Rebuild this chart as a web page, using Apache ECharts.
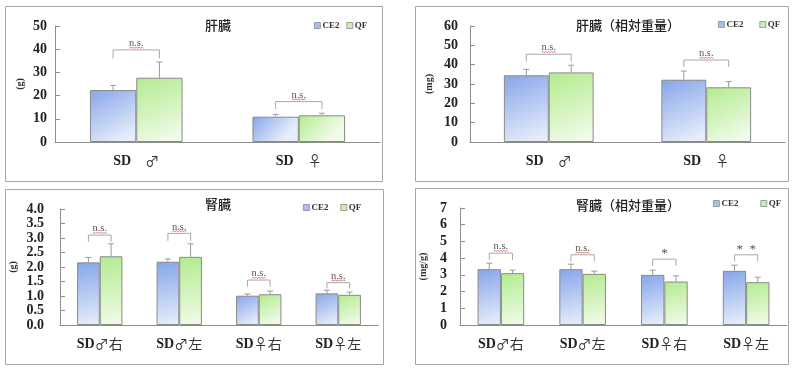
<!DOCTYPE html>
<html><head><meta charset="utf-8">
<script src="https://cdn.jsdelivr.net/npm/echarts@6/dist/echarts.min.js"></script>
<style>html,body{margin:0;padding:0;background:#fff;}#c{width:800px;height:372px;}</style>
</head><body><div id="c"></div>
<script>
// ---------- data ----------
const liverCats = ['SD\u3000♂', 'SD\u3000♀'];
const liverCE2 = [22.4, 10.9];
const liverCE2Err = [2.0, 1.0];
const liverQF = [27.7, 11.5];
const liverQFErr = [6.8, 0.9];
const liverBracket = [39.7, 17.4];
const liverLeg = [36.0, 14.2];
const liverSig = ['n.s.', 'n.s.'];

const liverRelCE2 = [34.5, 32.2];
const liverRelCE2Err = [3.1, 4.5];
const liverRelQF = [36.0, 28.3];
const liverRelQFErr = [3.7, 2.9];
const liverRelBracket = [45.4, 42.4];
const liverRelLeg = [41.5, 38.9];
const liverRelSig = ['n.s.', 'n.s.'];

const kidneyCats = ['SD♂右', 'SD♂左', 'SD♀右', 'SD♀左'];
const kidneyCE2 = [2.16, 2.18, 1.01, 1.09];
const kidneyCE2Err = [0.17, 0.10, 0.06, 0.11];
const kidneyQF = [2.37, 2.35, 1.06, 1.04];
const kidneyQFErr = [0.43, 0.45, 0.11, 0.09];
const kidneyBracket = [3.10, 3.16, 1.55, 1.46];
const kidneyLeg = [2.87, 2.90, 1.32, 1.26];
const kidneySig = ['n.s.', 'n.s.', 'n.s.', 'n.s.'];

const kidneyRelCE2 = [3.34, 3.34, 3.00, 3.24];
const kidneyRelCE2Err = [0.36, 0.30, 0.28, 0.34];
const kidneyRelQF = [3.10, 3.06, 2.60, 2.56];
const kidneyRelQFErr = [0.18, 0.16, 0.34, 0.30];
const kidneyRelBracket = [4.30, 4.20, 3.94, 4.20];
const kidneyRelLeg = [3.90, 3.80, 3.54, 3.80];
const kidneyRelSig = ['n.s.', 'n.s.', '*', '* *'];

// ---------- styling ----------
const GAP = 0.43;
const serif = 'Liberation Serif';
const cjk = 'Noto Sans CJK JP';
const ce2Color = {type:'linear', x:0, y:0, x2:0.6, y2:1, colorStops:[{offset:0,color:'#86a5e8'},{offset:1,color:'#e6edfb'}]};
const qfColor = {type:'linear', x:0, y:0, x2:0.6, y2:1, colorStops:[{offset:0,color:'#b2eb8e'},{offset:1,color:'#f0fbe8'}]};

const panels = [
  {title:'肝臓', tx:213, ty:14, grid:{left:55, top:26, width:325, height:116}, cats:liverCats,
   max:50, interval:10, dec:0, yname:'(g)', ygap:30, lmargin:8, xmargin:12,
   ce2:liverCE2, ce2e:liverCE2Err, qf:liverQF, qfe:liverQFErr, br:liverBracket, leg:liverLeg, sig:liverSig,
   lx:309, ly:16, lgap:7},
  {title:'肝臓（相対重量）', tx:623, ty:14, grid:{left:470, top:26, width:315, height:116}, cats:liverCats,
   max:60, interval:10, dec:0, yname:'(mg)', ygap:36, lmargin:12, xmargin:12,
   ce2:liverRelCE2, ce2e:liverRelCE2Err, qf:liverRelQF, qfe:liverRelQFErr, br:liverRelBracket, leg:liverRelLeg, sig:liverRelSig,
   lx:713, ly:15, lgap:16},
  {title:'腎臓', tx:213, ty:193, grid:{left:60, top:209, width:318, height:116}, cats:kidneyCats,
   max:4, interval:0.5, dec:1, yname:'(g)', ygap:42, lmargin:16, xmargin:12,
   ce2:kidneyCE2, ce2e:kidneyCE2Err, qf:kidneyQF, qfe:kidneyQFErr, br:kidneyBracket, leg:kidneyLeg, sig:kidneySig,
   lx:298, ly:198, lgap:12},
  {title:'腎臓（相対重量）', tx:623, ty:194, grid:{left:460, top:208, width:327, height:117}, cats:kidneyCats,
   max:7, interval:1, dec:0, yname:'(mg/g)', ygap:32, lmargin:13, xmargin:12,
   ce2:kidneyRelCE2, ce2e:kidneyRelCE2Err, qf:kidneyRelQF, qfe:kidneyRelQFErr, br:kidneyRelBracket, leg:kidneyRelLeg, sig:kidneyRelSig,
   lx:708, ly:194, lgap:22}
];

function errRender(sign){
  return function(params, api){
    const cat = api.value(0), v = api.value(1), e = api.value(2);
    const band = api.size([1,0])[0];
    const bw = band*(1-GAP)/2;
    const c = api.coord([cat, v]);
    const t = api.coord([cat, v+e]);
    const x = c[0] + sign*bw/2;
    const st = {stroke:'#9a9a9a', lineWidth:1};
    return {type:'group', children:[
      {type:'line', shape:{x1:x, y1:c[1], x2:x, y2:t[1]}, style:st},
      {type:'line', shape:{x1:x-3, y1:t[1], x2:x+3, y2:t[1]}, style:st}
    ]};
  };
}
function bracketRender(params, api){
  const cat = api.value(0), b = api.value(1), l = api.value(2);
  const lab = api.value(3);
  const band = api.size([1,0])[0];
  const bw = band*(1-GAP)/2;
  const pb = api.coord([cat, b]);
  const pl = api.coord([cat, l]);
  const xL = pb[0]-bw/2, xR = pb[0]+bw/2;
  const isNs = lab === 'n.s.';
  const children = [
    {type:'polyline', shape:{points:[[xL,pl[1]],[xL,pb[1]],[xR,pb[1]],[xR,pl[1]]]}, style:{stroke:'#a8a8a8', lineWidth:1, fill:null}},
    {type:'text', style:{text: isNs ? lab : lab.replace(' ', '\u2002'), x:pb[0], y: isNs ? pb[1]-1 : pb[1]+1, align:'center', verticalAlign:'bottom',
      fill:'#555', font: isNs ? '10.5px "'+serif+'"' : '13px "'+serif+'"'}}
  ];
  if (isNs) {
    const pts = [];
    const y0 = pb[1]-2.2;
    for (let i=0;i<=10;i++){ pts.push([pb[0]-7+i*1.4, y0 + (i%2? -0.7:0.7)]); }
    children.push({type:'polyline', shape:{points:pts}, style:{stroke:'#e05050', lineWidth:0.8, fill:null}});
  }
  return {type:'group', children};
}

const option = {animation:false, backgroundColor:'#fff',
  title:[], legend:[], grid:[], xAxis:[], yAxis:[], series:[],
  graphic:[
    {type:'rect', shape:{x:5.5, y:6.5, width:377, height:175}, style:{fill:null, stroke:'#a6a6a6', lineWidth:1}},
    {type:'rect', shape:{x:415.5, y:6.5, width:373, height:175}, style:{fill:null, stroke:'#a6a6a6', lineWidth:1}},
    {type:'rect', shape:{x:5.5, y:189.5, width:378, height:175}, style:{fill:null, stroke:'#a6a6a6', lineWidth:1}},
    {type:'rect', shape:{x:415.5, y:188.5, width:373, height:176}, style:{fill:null, stroke:'#a6a6a6', lineWidth:1}}
  ]
};

panels.forEach((p, i) => {
  option.title.push({text:p.title, left:p.tx, top:p.ty, textAlign:'center',
    textStyle:{fontFamily:cjk, fontSize:13, fontWeight:500, color:'#222'}});
  option.legend.push({left:p.lx, top:p.ly, itemWidth:6, itemHeight:6, itemGap:p.lgap, icon:'rect', selectedMode:false,
    textStyle:{fontFamily:serif, fontWeight:'bold', fontSize:9, color:'#333', padding:[0,0,0,-3]},
    data:[{name:'CE2', itemStyle:{color:'#a9bef0', borderColor:'#8a8a8a', borderWidth:0.8}},
          {name:'QF', itemStyle:{color:'#c9f0b2', borderColor:'#8a8a8a', borderWidth:0.8}}]});
  option.grid.push(Object.assign({containLabel:false}, p.grid));
  option.xAxis.push({type:'category', gridIndex:i, data:p.cats,
    axisLine:{lineStyle:{color:'#8c8c8c'}}, axisTick:{inside:true, length:5, lineStyle:{color:'#8c8c8c'}},
    axisLabel:{margin:p.xmargin, interval:0,
      formatter: v => '{a|SD}{b|' + v.slice(2) + '}',
      rich:{a:{fontFamily:serif, fontWeight:'bold', fontSize:14, color:'#222'},
            b:{fontFamily:cjk, fontSize:14, color:'#333'}}}});
  option.yAxis.push({type:'value', gridIndex:i, min:0, max:p.max, interval:p.interval,
    name:p.yname, nameLocation:'middle', nameGap:p.ygap, nameRotate:90,
    nameTextStyle:{fontFamily:serif, fontWeight:'bold', fontSize:10, color:'#333'},
    axisLine:{show:true, lineStyle:{color:'#8c8c8c'}}, axisTick:{show:true, inside:true, length:5, lineStyle:{color:'#8c8c8c'}},
    splitLine:{show:false},
    axisLabel:{margin:p.lmargin, fontFamily:serif, fontWeight:'bold', fontSize:14, color:'#222',
      formatter: v => v.toFixed(p.dec)}});
  option.series.push({type:'bar', name:'CE2', xAxisIndex:i, yAxisIndex:i, data:p.ce2,
    barGap:'0%', barCategoryGap:(GAP*100)+'%',
    itemStyle:{color:ce2Color, borderColor:'#8a8a8a', borderWidth:1}});
  option.series.push({type:'bar', name:'QF', xAxisIndex:i, yAxisIndex:i, data:p.qf,
    barGap:'0%', barCategoryGap:(GAP*100)+'%',
    itemStyle:{color:qfColor, borderColor:'#8a8a8a', borderWidth:1}});
  option.series.push({type:'custom', xAxisIndex:i, yAxisIndex:i, z:5, renderItem:errRender(-1),
    data:p.ce2.map((v,k)=>[k, v, p.ce2e[k]])});
  option.series.push({type:'custom', xAxisIndex:i, yAxisIndex:i, z:5, renderItem:errRender(1),
    data:p.qf.map((v,k)=>[k, v, p.qfe[k]])});
  option.series.push({type:'custom', xAxisIndex:i, yAxisIndex:i, z:6, renderItem:bracketRender,
    dimensions:['x','b','l','s'], encode:{x:0, y:1},
    data:p.br.map((v,k)=>[k, v, p.leg[k], p.sig[k]])});
});

const chart = echarts.init(document.getElementById('c'), null, {renderer:'canvas'});
chart.setOption(option);
</script></body></html>
